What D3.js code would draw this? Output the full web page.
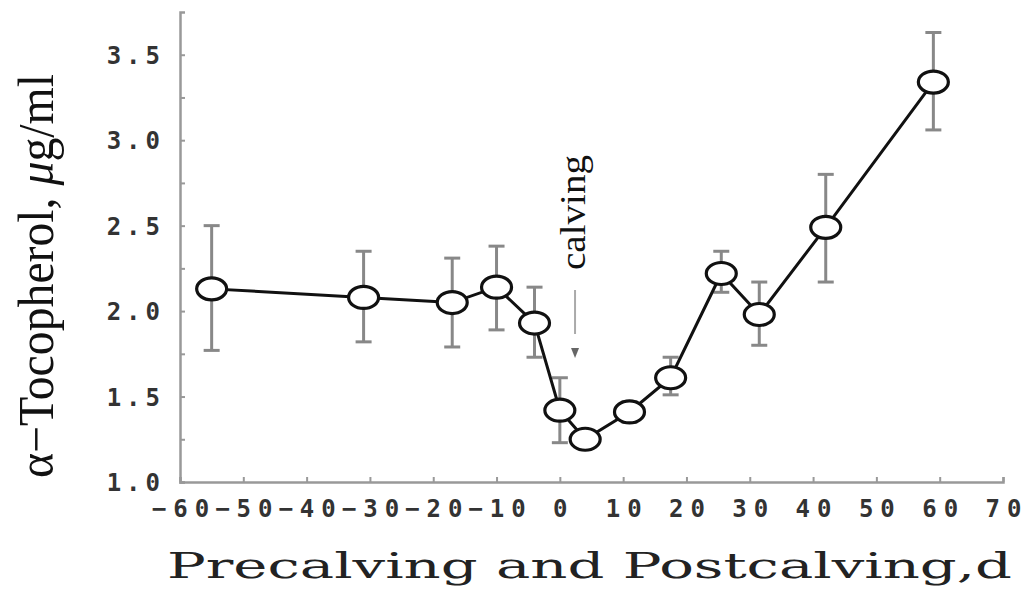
<!DOCTYPE html>
<html lang="en">
<head>
  <meta charset="UTF-8">
  <title>alpha-Tocopherol around calving</title>
  <style>
    body { margin: 0; background: #fff; }
    svg { display: block; }
    .tick-label { font-family: "DejaVu Sans Mono", monospace; font-weight: bold; fill: #333; }
    .title { font-family: "Liberation Serif", serif; fill: #111; }
    .slab-title { font-family: "DejaVu Serif", serif; fill: #222; }
  </style>
</head>
<body>
  <svg id="chart" width="1027" height="592"></svg>
  <script src="https://d3js.org/d3.v7.min.js"></script>
  <script>
    // days relative to calving, mean and error bar ends
    const days  = [-55, -31, -17, -10, -4, 0, 4, 11, 17.5, 25.5, 31.5, 42, 59];
    const means = [2.13, 2.08, 2.05, 2.14, 1.93, 1.42, 1.25, 1.41, 1.61, 2.22, 1.98, 2.49, 3.34];
    const upper = [2.50, 2.35, 2.31, 2.38, 2.14, 1.61, 1.30, 1.47, 1.73, 2.35, 2.17, 2.80, 3.63];
    const lower = [1.77, 1.82, 1.79, 1.89, 1.73, 1.23, 1.20, 1.35, 1.51, 2.11, 1.80, 2.17, 3.06];

    const xTicks = [-60, -50, -40, -30, -20, -10, 0, 10, 20, 30, 40, 50, 60, 70];
    const yTicks = [1.0, 1.5, 2.0, 2.5, 3.0, 3.5];
    const yMinorTicks = [1.25, 1.75, 2.25, 2.75, 3.25];

    const data = days.map((d, i) => ({ day: d, mean: means[i], hi: upper[i], lo: lower[i] }));

    const svg = d3.select("#chart");
    const x = d3.scaleLinear().domain([-60, 70]).range([180, 1003]);
    const y = d3.scaleLinear().domain([1.0, 3.75]).range([482, 12]);
    const axisColor = "#999";

    // axes
    const xAxis = svg.append("g").attr("transform", `translate(0,${y(1.0)})`)
      .call(d3.axisBottom(x).tickValues(xTicks).tickSize(-5).tickFormat(""));
    const yAxis = svg.append("g").attr("transform", `translate(${x(-60)},0)`)
      .call(d3.axisLeft(y).tickValues(yTicks.concat(yMinorTicks)).tickSize(-5).tickFormat(""));
    [xAxis, yAxis].forEach(g => {
      g.select(".domain").attr("stroke", axisColor).attr("stroke-width", 2.5);
      g.selectAll(".tick line").attr("stroke", axisColor).attr("stroke-width", 2);
    });

    // tick labels
    svg.selectAll(".xlab").data(xTicks).enter().append("text")
      .attr("class", "tick-label")
      .attr("x", d => x(d) + 4)
      .attr("y", 517)
      .attr("text-anchor", "middle")
      .style("font-size", "24px")
      .style("letter-spacing", "7px")
      .text(d => d < 0 ? "\u2212" + Math.abs(d) : d);

    svg.selectAll(".ylab").data(yTicks).enter().append("text")
      .attr("class", "tick-label")
      .attr("x", 165)
      .attr("y", d => y(d) + 9)
      .attr("text-anchor", "end")
      .style("font-size", "24px")
      .style("letter-spacing", "5px")
      .text(d => d.toFixed(1));

    // error bars
    const eb = svg.append("g").attr("stroke", "#888").attr("stroke-width", 3);
    eb.selectAll(".v").data(data).enter().append("line")
      .attr("x1", d => x(d.day)).attr("x2", d => x(d.day))
      .attr("y1", d => y(d.hi)).attr("y2", d => y(d.lo));
    eb.selectAll(".cap-hi").data(data).enter().append("line")
      .attr("x1", d => x(d.day) - 8).attr("x2", d => x(d.day) + 8)
      .attr("y1", d => y(d.hi)).attr("y2", d => y(d.hi));
    eb.selectAll(".cap-lo").data(data).enter().append("line")
      .attr("x1", d => x(d.day) - 8).attr("x2", d => x(d.day) + 8)
      .attr("y1", d => y(d.lo)).attr("y2", d => y(d.lo));

    // connecting line
    svg.append("path").datum(data)
      .attr("fill", "none").attr("stroke", "#111").attr("stroke-width", 3)
      .attr("d", d3.line().x(d => x(d.day)).y(d => y(d.mean)));

    // markers
    svg.selectAll(".pt").data(data).enter().append("ellipse")
      .attr("cx", d => x(d.day)).attr("cy", d => y(d.mean))
      .attr("rx", 15).attr("ry", 11)
      .attr("fill", "#fff").attr("stroke", "#111").attr("stroke-width", 3.2);

    // calving annotation (reads bottom to top, arrow pointing down)
    const cx = x(2.4);
    svg.append("text").attr("class", "title")
      .attr("transform", `translate(${cx + 10},270) rotate(-90)`)
      .attr("textLength", 115).attr("lengthAdjust", "spacingAndGlyphs")
      .style("font-size", "35px")
      .text("calving");
    svg.append("line").attr("x1", cx).attr("x2", cx).attr("y1", 290).attr("y2", 334)
      .attr("stroke", "#aaa").attr("stroke-width", 2);
    svg.append("path")
      .attr("d", `M${cx - 4},348 L${cx + 4},348 L${cx},358 Z`)
      .attr("fill", "#666");

    // axis titles
    svg.append("text").attr("class", "slab-title")
      .attr("x", 167).attr("y", 578)
      .attr("textLength", 845).attr("lengthAdjust", "spacingAndGlyphs")
      .style("font-size", "36px")
      .text("Precalving and Postcalving,d");

    const yt = svg.append("text").attr("class", "title")
      .attr("transform", "translate(53,478) rotate(-90)")
      .attr("textLength", 404).attr("lengthAdjust", "spacingAndGlyphs")
      .style("font-size", "50px");
    yt.append("tspan").text("\u03b1\u2212Tocopherol, ");
    yt.append("tspan").style("font-style", "italic").text("\u03bc");
    yt.append("tspan").text("g/ml");
  </script>
</body>
</html>
